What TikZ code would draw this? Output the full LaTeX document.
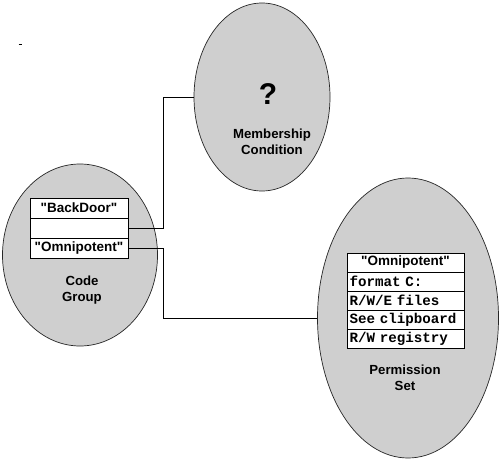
\documentclass[tikz,border=0pt]{standalone}
\usepackage{fontspec}
\setmainfont{Liberation Sans}[Ligatures=TeXOff]
\newfontfamily\monof{Liberation Mono}[Ligatures=TeXOff]
\usetikzlibrary{shapes.geometric}
\begin{document}
\begin{tikzpicture}[x=1pt,y=-1pt,
  blob/.style={ellipse,draw=black!85,line width=0.7pt,fill=black!19,inner sep=0pt},
  lbl/.style={font=\bfseries\fontsize{13.2}{15.5}\selectfont,align=center,inner sep=0pt},
  cgrow/.style={draw,line width=0.8pt,fill=white,minimum width=98pt,minimum height=20pt,inner sep=0pt,font=\bfseries\fontsize{13.5}{15}\selectfont},
  psrow/.style={draw,line width=0.8pt,fill=white,minimum width=117pt,minimum height=19pt,inner sep=0pt},
  monorow/.style={psrow,text width=112pt,align=left,font=\monof\bfseries\fontsize{14.2}{15}\selectfont},
  wire/.style={draw,line width=0.6pt}]
\useasboundingbox (0,0) rectangle (500,460);
\fill[white] (0,0) rectangle (500,460);
% stray dash
\draw[line width=0.8pt] (18.5,44.5) -- (22,44.5);
% ellipses
\node[blob,minimum width=155pt,minimum height=182pt] (cg) at (80,255) {};
\node[blob,minimum width=136pt,minimum height=188pt] (mc) at (262,97) {};
\node[blob,minimum width=181pt,minimum height=280pt] (ps) at (408,318) {};
% code group rows
\node[cgrow] (r1) at (79,208) {"BackDoor"};
\node[cgrow] (r2) at (79,228) {};
\node[cgrow] (r3) at (79,248) {"Omnipotent"};
\node[lbl] (cgl) at (82,290) {Code\\Group};
% membership text
\node[font=\bfseries\fontsize{30}{30}\selectfont,inner sep=0pt] (q) at (268,94) {?};
\node[lbl] (mcl) at (272,142) {Membership\\Condition};
% permission rows
\node[psrow,font=\bfseries\fontsize{13.5}{15}\selectfont] (p1) at (405.5,262.5) {"Omnipotent"};
\node[monorow] (p2) at (405.5,281.5) {format C:};
\node[monorow] (p3) at (405.5,300.5) {R/W/E files};
\node[monorow] (p4) at (405.5,319.5) {See clipboard};
\node[monorow] (p5) at (405.5,338.5) {R/W registry};
\node[lbl] (psl) at (405,378) {Permission\\Set};
% connectors
\coordinate (j) at (163,0);
\draw[wire] (r2.east) -- (r2.east -| j) |- (mc.west);
\draw[wire] (r3.east) -- (r3.east -| j) |- (ps.west);
\end{tikzpicture}
\end{document}
